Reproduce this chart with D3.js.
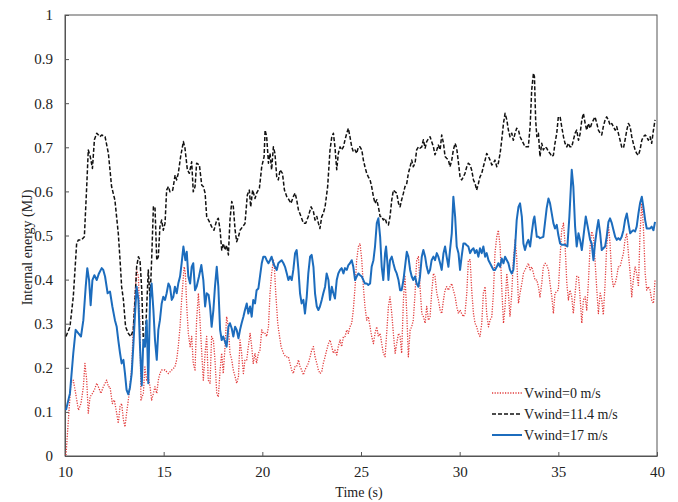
<!DOCTYPE html>
<html>
<head>
<meta charset="utf-8">
<script src="https://cdn.jsdelivr.net/npm/d3@7"></script>
<style>
  html, body { margin: 0; padding: 0; background: #fff; }
  svg text { font-family: "Liberation Serif", "Times New Roman", serif; fill: #222; }
</style>
</head>
<body>
<div id="chart"></div>
<script>
// ---- data (time in s, internal energy in MJ) ----
const timeTicks = [10, 15, 20, 25, 30, 35, 40];
const energyTicks = [0, 0.1, 0.2, 0.3, 0.4, 0.5, 0.6, 0.7, 0.8, 0.9, 1];

const wind0 = [
  [10.05,0.002],[10.17,0.081],[10.30,0.165],[10.42,0.172],[10.54,0.142],[10.68,0.104],[10.81,0.119],[10.93,0.157],
  [11.01,0.210],[11.10,0.172],[11.18,0.097],[11.27,0.134],[11.39,0.142],[11.49,0.150],[11.61,0.165],[11.69,0.157],
  [11.82,0.142],[11.94,0.157],[12.11,0.172],[12.20,0.157],[12.28,0.157],[12.40,0.119],[12.50,0.127],[12.62,0.097],
  [12.70,0.074],[12.79,0.112],[12.87,0.119],[12.96,0.082],[13.04,0.066],[13.12,0.097],[13.21,0.127],[13.29,0.157],
  [13.38,0.202],[13.46,0.293],[13.55,0.369],[13.63,0.422],[13.72,0.407],[13.80,0.293],[13.85,0.127],[13.97,0.142],
  [14.05,0.202],[14.14,0.172],[14.22,0.180],[14.31,0.157],[14.39,0.127],[14.48,0.142],[14.56,0.157],[14.65,0.142],
  [14.73,0.172],[14.81,0.187],[14.90,0.195],[15.07,0.195],[15.24,0.187],[15.41,0.195],[15.57,0.202],[15.66,0.218],
  [15.74,0.248],[15.83,0.293],[15.91,0.354],[16.00,0.407],[16.04,0.429],[16.10,0.414],[16.17,0.339],[16.25,0.278],
  [16.34,0.248],[16.42,0.271],[16.50,0.210],[16.59,0.195],[16.67,0.308],[16.76,0.369],[16.84,0.308],[16.93,0.233],
  [17.01,0.172],[17.10,0.233],[17.18,0.271],[17.26,0.172],[17.35,0.165],[17.43,0.271],[17.52,0.263],[17.60,0.218],
  [17.69,0.142],[17.77,0.134],[17.86,0.195],[17.94,0.233],[18.02,0.187],[18.11,0.248],[18.19,0.316],[18.28,0.293],
  [18.36,0.233],[18.45,0.218],[18.53,0.195],[18.62,0.180],[18.70,0.165],[18.79,0.180],[18.87,0.263],[18.95,0.233],
  [19.04,0.187],[19.12,0.218],[19.21,0.218],[19.29,0.248],[19.38,0.278],[19.46,0.248],[19.54,0.210],[19.63,0.233],
  [19.71,0.210],[19.80,0.233],[19.88,0.240],[19.97,0.286],[20.05,0.278],[20.14,0.278],[20.22,0.271],[20.31,0.293],
  [20.39,0.369],[20.47,0.414],[20.56,0.444],[20.61,0.429],[20.68,0.369],[20.78,0.301],[20.85,0.278],[20.95,0.248],
  [21.07,0.233],[21.18,0.225],[21.32,0.225],[21.40,0.210],[21.49,0.195],[21.57,0.187],[21.66,0.203],[21.74,0.203],
  [21.83,0.218],[21.91,0.203],[21.99,0.195],[22.08,0.184],[22.16,0.195],[22.25,0.203],[22.33,0.210],[22.42,0.225],
  [22.50,0.240],[22.59,0.248],[22.67,0.225],[22.76,0.210],[22.84,0.195],[22.92,0.187],[23.01,0.191],[23.09,0.210],
  [23.18,0.225],[23.26,0.240],[23.35,0.255],[23.43,0.263],[23.52,0.248],[23.60,0.233],[23.68,0.240],[23.77,0.229],
  [23.85,0.248],[23.94,0.263],[24.02,0.248],[24.11,0.271],[24.19,0.271],[24.28,0.286],[24.36,0.278],[24.44,0.293],
  [24.53,0.301],[24.61,0.331],[24.70,0.384],[24.78,0.444],[24.87,0.475],[24.95,0.482],[25.04,0.444],[25.12,0.384],
  [25.20,0.339],[25.29,0.308],[25.37,0.316],[25.46,0.293],[25.54,0.271],[25.63,0.255],[25.71,0.278],[25.80,0.293],
  [25.88,0.271],[25.97,0.278],[26.05,0.255],[26.13,0.233],[26.22,0.225],[26.30,0.278],[26.39,0.339],[26.47,0.361],
  [26.56,0.323],[26.64,0.278],[26.73,0.233],[26.81,0.255],[26.90,0.278],[26.98,0.271],[27.06,0.233],[27.15,0.354],
  [27.23,0.407],[27.32,0.323],[27.40,0.225],[27.49,0.286],[27.57,0.293],[27.65,0.308],[27.74,0.369],[27.82,0.444],
  [27.91,0.452],[27.99,0.384],[28.08,0.323],[28.16,0.316],[28.25,0.301],[28.33,0.339],[28.42,0.308],[28.50,0.316],
  [28.58,0.369],[28.67,0.414],[28.75,0.407],[28.84,0.369],[28.92,0.354],[29.01,0.331],[29.09,0.323],[29.18,0.354],
  [29.26,0.376],[29.34,0.384],[29.43,0.376],[29.51,0.384],[29.60,0.391],[29.68,0.376],[29.77,0.361],[29.85,0.339],
  [29.94,0.323],[30.02,0.331],[30.10,0.323],[30.19,0.316],[30.27,0.323],[30.36,0.369],[30.44,0.444],[30.53,0.445],
  [30.61,0.376],[30.70,0.323],[30.78,0.301],[30.86,0.293],[30.95,0.278],[31.03,0.271],[31.12,0.301],[31.20,0.369],
  [31.29,0.384],[31.37,0.323],[31.46,0.293],[31.54,0.308],[31.63,0.316],[31.71,0.369],[31.79,0.460],[31.88,0.497],
  [31.96,0.512],[32.05,0.475],[32.13,0.384],[32.22,0.301],[32.30,0.338],[32.39,0.414],[32.47,0.369],[32.55,0.316],
  [32.64,0.369],[32.72,0.444],[32.81,0.490],[32.89,0.452],[32.98,0.346],[33.06,0.369],[33.15,0.391],[33.23,0.414],
  [33.31,0.422],[33.40,0.429],[33.48,0.437],[33.57,0.422],[33.65,0.429],[33.74,0.414],[33.82,0.399],[33.91,0.399],
  [33.99,0.384],[34.07,0.361],[34.16,0.391],[34.24,0.429],[34.33,0.437],[34.41,0.433],[34.50,0.422],[34.58,0.391],
  [34.67,0.361],[34.75,0.323],[34.83,0.369],[34.92,0.373],[35.00,0.376],[35.09,0.452],[35.17,0.513],[35.26,0.528],
  [35.34,0.482],[35.43,0.391],[35.51,0.354],[35.59,0.376],[35.68,0.361],[35.76,0.323],[35.85,0.369],[35.93,0.407],
  [36.02,0.407],[36.10,0.361],[36.19,0.301],[36.27,0.354],[36.36,0.361],[36.44,0.331],[36.52,0.391],[36.61,0.475],
  [36.69,0.509],[36.78,0.497],[36.86,0.444],[36.95,0.376],[37.03,0.323],[37.12,0.369],[37.20,0.354],[37.28,0.320],
  [37.37,0.391],[37.45,0.475],[37.54,0.524],[37.62,0.482],[37.71,0.407],[37.79,0.384],[37.88,0.391],[37.96,0.407],
  [38.04,0.429],[38.13,0.429],[38.21,0.444],[38.30,0.460],[38.38,0.490],[38.47,0.505],[38.55,0.460],[38.64,0.414],
  [38.72,0.361],[38.80,0.399],[38.89,0.429],[38.97,0.414],[39.06,0.384],[39.14,0.505],[39.23,0.573],[39.31,0.520],
  [39.40,0.414],[39.48,0.376],[39.56,0.384],[39.65,0.376],[39.73,0.354],[39.82,0.346],[39.90,0.399]
];

const wind114 = [
  [10.05,0.271],[10.25,0.293],[10.42,0.361],[10.59,0.482],[10.68,0.490],[10.84,0.490],[10.98,0.497],[11.10,0.611],
  [11.18,0.694],[11.28,0.679],[11.39,0.652],[11.49,0.717],[11.61,0.732],[11.77,0.724],[11.86,0.728],[12.03,0.724],
  [12.20,0.686],[12.36,0.611],[12.53,0.580],[12.70,0.505],[12.79,0.444],[12.87,0.384],[12.96,0.354],[13.07,0.293],
  [13.21,0.278],[13.34,0.271],[13.46,0.286],[13.55,0.354],[13.63,0.429],[13.72,0.452],[13.80,0.444],[13.89,0.376],
  [13.97,0.263],[14.05,0.248],[14.14,0.339],[14.22,0.422],[14.31,0.354],[14.39,0.444],[14.48,0.565],[14.56,0.565],
  [14.65,0.444],[14.73,0.452],[14.81,0.520],[14.90,0.535],[14.98,0.512],[15.07,0.528],[15.15,0.603],[15.24,0.611],
  [15.32,0.599],[15.46,0.603],[15.58,0.637],[15.66,0.626],[15.74,0.641],[15.86,0.679],[16.00,0.713],[16.08,0.698],
  [16.20,0.649],[16.30,0.641],[16.42,0.667],[16.50,0.599],[16.59,0.611],[16.67,0.664],[16.81,0.660],[16.93,0.614],
  [17.01,0.611],[17.10,0.596],[17.18,0.543],[17.32,0.531],[17.43,0.520],[17.55,0.512],[17.69,0.535],[17.77,0.539],
  [17.86,0.512],[17.94,0.467],[18.02,0.482],[18.11,0.467],[18.19,0.478],[18.28,0.456],[18.36,0.535],[18.45,0.577],
  [18.53,0.565],[18.62,0.512],[18.70,0.486],[18.79,0.497],[18.87,0.512],[19.00,0.520],[19.12,0.527],[19.24,0.592],
  [19.34,0.603],[19.41,0.565],[19.51,0.603],[19.63,0.584],[19.71,0.596],[19.85,0.607],[19.97,0.656],[20.09,0.679],
  [20.14,0.739],[20.22,0.724],[20.31,0.664],[20.39,0.686],[20.47,0.649],[20.56,0.701],[20.64,0.686],[20.73,0.633],
  [20.81,0.626],[20.90,0.649],[21.02,0.641],[21.12,0.603],[21.24,0.588],[21.35,0.581],[21.45,0.573],[21.57,0.588],
  [21.66,0.596],[21.74,0.581],[21.83,0.558],[21.96,0.543],[22.08,0.528],[22.20,0.528],[22.33,0.543],[22.47,0.565],
  [22.59,0.554],[22.67,0.535],[22.76,0.543],[22.84,0.528],[22.92,0.516],[23.01,0.543],[23.09,0.550],[23.18,0.565],
  [23.31,0.611],[23.43,0.694],[23.52,0.724],[23.60,0.732],[23.68,0.701],[23.77,0.649],[23.85,0.686],[23.94,0.701],
  [24.02,0.694],[24.11,0.701],[24.19,0.717],[24.28,0.732],[24.36,0.743],[24.44,0.724],[24.53,0.701],[24.61,0.690],
  [24.70,0.694],[24.78,0.686],[24.87,0.701],[24.95,0.701],[25.04,0.694],[25.12,0.671],[25.20,0.656],[25.29,0.641],
  [25.37,0.633],[25.46,0.626],[25.54,0.611],[25.63,0.588],[25.71,0.573],[25.80,0.581],[25.88,0.565],[25.97,0.543],
  [26.05,0.543],[26.13,0.535],[26.22,0.539],[26.30,0.528],[26.39,0.524],[26.47,0.543],[26.56,0.581],[26.64,0.603],
  [26.73,0.599],[26.81,0.596],[26.90,0.573],[26.98,0.565],[27.06,0.581],[27.15,0.596],[27.23,0.611],[27.32,0.618],
  [27.40,0.641],[27.49,0.656],[27.57,0.671],[27.65,0.656],[27.74,0.664],[27.82,0.694],[27.91,0.701],[27.99,0.698],
  [28.08,0.701],[28.16,0.717],[28.25,0.698],[28.33,0.713],[28.42,0.720],[28.50,0.724],[28.58,0.713],[28.67,0.701],
  [28.75,0.683],[28.84,0.694],[28.92,0.705],[29.01,0.694],[29.09,0.728],[29.18,0.709],[29.26,0.679],[29.34,0.675],
  [29.43,0.671],[29.51,0.656],[29.60,0.671],[29.68,0.694],[29.77,0.709],[29.85,0.698],[29.94,0.664],[30.02,0.633],
  [30.10,0.626],[30.19,0.633],[30.27,0.641],[30.36,0.656],[30.44,0.664],[30.53,0.660],[30.61,0.648],[30.70,0.626],
  [30.78,0.618],[30.86,0.603],[30.95,0.618],[31.03,0.633],[31.12,0.641],[31.20,0.656],[31.29,0.671],[31.37,0.686],
  [31.46,0.679],[31.54,0.671],[31.63,0.660],[31.71,0.664],[31.79,0.671],[31.88,0.656],[31.96,0.664],[32.05,0.686],
  [32.13,0.716],[32.22,0.754],[32.30,0.777],[32.39,0.762],[32.47,0.739],[32.55,0.724],[32.64,0.732],[32.72,0.716],
  [32.81,0.732],[32.89,0.743],[32.98,0.739],[33.06,0.724],[33.15,0.716],[33.23,0.709],[33.31,0.701],[33.40,0.701],
  [33.48,0.701],[33.57,0.747],[33.65,0.830],[33.74,0.868],[33.79,0.860],[33.85,0.762],[33.91,0.724],[33.99,0.732],
  [34.07,0.679],[34.16,0.709],[34.24,0.694],[34.33,0.701],[34.41,0.698],[34.50,0.690],[34.58,0.686],[34.67,0.679],
  [34.75,0.682],[34.83,0.709],[34.92,0.732],[35.00,0.769],[35.09,0.769],[35.17,0.747],[35.26,0.724],[35.34,0.709],
  [35.43,0.701],[35.51,0.709],[35.59,0.701],[35.68,0.701],[35.76,0.716],[35.85,0.732],[35.93,0.739],[36.02,0.716],
  [36.10,0.730],[36.19,0.762],[36.27,0.777],[36.36,0.754],[36.44,0.739],[36.52,0.754],[36.61,0.743],[36.69,0.754],
  [36.78,0.762],[36.86,0.769],[36.95,0.754],[37.03,0.739],[37.12,0.732],[37.20,0.728],[37.28,0.747],[37.37,0.762],
  [37.45,0.769],[37.54,0.762],[37.62,0.750],[37.71,0.754],[37.79,0.747],[37.88,0.739],[37.96,0.747],[38.04,0.732],
  [38.13,0.716],[38.21,0.701],[38.30,0.698],[38.38,0.716],[38.47,0.739],[38.55,0.754],[38.64,0.747],[38.72,0.724],
  [38.80,0.709],[38.89,0.694],[38.97,0.686],[39.06,0.682],[39.14,0.694],[39.23,0.716],[39.31,0.724],[39.40,0.728],
  [39.48,0.724],[39.56,0.716],[39.65,0.724],[39.73,0.709],[39.82,0.739],[39.90,0.762]
];

const wind17 = [
  [10.05,0.104],[10.25,0.142],[10.42,0.233],[10.54,0.286],[10.68,0.278],[10.81,0.271],[10.93,0.308],[11.05,0.384],
  [11.13,0.426],[11.22,0.399],[11.30,0.342],[11.39,0.399],[11.49,0.410],[11.61,0.399],[11.72,0.414],[11.86,0.426],
  [11.94,0.422],[12.03,0.407],[12.16,0.369],[12.28,0.373],[12.40,0.339],[12.53,0.308],[12.62,0.293],[12.70,0.263],
  [12.79,0.233],[12.87,0.210],[12.96,0.218],[13.04,0.187],[13.12,0.150],[13.21,0.140],[13.29,0.155],[13.38,0.187],
  [13.46,0.248],[13.55,0.323],[13.63,0.384],[13.72,0.354],[13.80,0.248],[13.89,0.160],[13.97,0.263],[14.05,0.248],
  [14.14,0.308],[14.22,0.165],[14.31,0.354],[14.39,0.391],[14.48,0.331],[14.56,0.263],[14.65,0.218],[14.73,0.286],
  [14.81,0.308],[14.90,0.346],[14.98,0.361],[15.07,0.354],[15.15,0.369],[15.24,0.391],[15.32,0.384],[15.41,0.354],
  [15.49,0.361],[15.57,0.384],[15.66,0.369],[15.74,0.391],[15.83,0.407],[15.91,0.437],[16.00,0.475],[16.10,0.444],
  [16.17,0.463],[16.25,0.407],[16.34,0.391],[16.42,0.429],[16.50,0.437],[16.59,0.376],[16.67,0.384],[16.79,0.407],
  [16.91,0.433],[17.01,0.399],[17.10,0.339],[17.18,0.369],[17.28,0.365],[17.35,0.339],[17.43,0.293],[17.52,0.331],
  [17.60,0.384],[17.69,0.429],[17.77,0.384],[17.86,0.286],[17.94,0.263],[18.02,0.271],[18.11,0.259],[18.19,0.248],
  [18.28,0.293],[18.36,0.301],[18.45,0.289],[18.53,0.271],[18.62,0.293],[18.70,0.286],[18.79,0.267],[18.87,0.286],
  [18.95,0.301],[19.04,0.316],[19.12,0.331],[19.21,0.346],[19.29,0.323],[19.38,0.339],[19.46,0.316],[19.54,0.354],
  [19.63,0.346],[19.71,0.376],[19.80,0.380],[19.88,0.407],[19.97,0.437],[20.05,0.452],[20.14,0.452],[20.22,0.444],
  [20.31,0.437],[20.39,0.444],[20.47,0.452],[20.56,0.437],[20.64,0.429],[20.73,0.422],[20.81,0.437],[20.90,0.441],
  [20.98,0.444],[21.07,0.437],[21.15,0.429],[21.24,0.414],[21.32,0.399],[21.40,0.407],[21.49,0.399],[21.57,0.422],
  [21.66,0.460],[21.74,0.467],[21.83,0.422],[21.91,0.369],[21.99,0.346],[22.08,0.354],[22.16,0.323],[22.25,0.361],
  [22.33,0.414],[22.42,0.452],[22.50,0.456],[22.59,0.429],[22.67,0.369],[22.76,0.339],[22.84,0.331],[22.92,0.339],
  [23.01,0.354],[23.09,0.369],[23.18,0.384],[23.26,0.414],[23.35,0.399],[23.43,0.354],[23.52,0.384],[23.60,0.369],
  [23.68,0.357],[23.77,0.399],[23.85,0.414],[23.94,0.422],[24.02,0.426],[24.11,0.414],[24.19,0.426],[24.28,0.422],
  [24.36,0.433],[24.44,0.437],[24.53,0.444],[24.61,0.429],[24.70,0.399],[24.78,0.407],[24.87,0.414],[24.95,0.410],
  [25.04,0.407],[25.12,0.399],[25.20,0.391],[25.29,0.391],[25.37,0.388],[25.46,0.391],[25.54,0.429],[25.63,0.444],
  [25.71,0.475],[25.80,0.528],[25.88,0.539],[25.97,0.497],[26.05,0.429],[26.13,0.399],[26.22,0.460],[26.27,0.475],
  [26.34,0.437],[26.39,0.399],[26.47,0.444],[26.56,0.452],[26.64,0.437],[26.73,0.422],[26.81,0.414],[26.90,0.399],
  [26.98,0.376],[27.06,0.376],[27.15,0.399],[27.23,0.429],[27.32,0.463],[27.40,0.452],[27.49,0.422],[27.57,0.407],
  [27.65,0.399],[27.74,0.407],[27.82,0.391],[27.91,0.384],[27.99,0.407],[28.08,0.452],[28.16,0.467],[28.25,0.452],
  [28.33,0.429],[28.42,0.414],[28.50,0.422],[28.58,0.444],[28.67,0.452],[28.75,0.444],[28.84,0.460],[28.92,0.452],
  [29.01,0.437],[29.09,0.422],[29.18,0.460],[29.26,0.475],[29.34,0.452],[29.43,0.429],[29.51,0.467],[29.60,0.505],
  [29.68,0.588],[29.77,0.543],[29.85,0.475],[29.94,0.460],[30.02,0.422],[30.10,0.452],[30.19,0.482],[30.27,0.482],
  [30.36,0.478],[30.44,0.475],[30.53,0.460],[30.61,0.467],[30.70,0.471],[30.78,0.460],[30.86,0.467],[30.95,0.452],
  [31.03,0.471],[31.12,0.460],[31.20,0.475],[31.29,0.452],[31.37,0.460],[31.46,0.444],[31.54,0.437],[31.63,0.429],
  [31.71,0.422],[31.79,0.422],[31.88,0.429],[31.96,0.437],[32.05,0.429],[32.13,0.448],[32.22,0.437],[32.30,0.452],
  [32.39,0.444],[32.47,0.437],[32.55,0.422],[32.64,0.414],[32.72,0.422],[32.81,0.475],[32.89,0.535],[32.98,0.565],
  [33.06,0.573],[33.15,0.543],[33.23,0.482],[33.31,0.467],[33.40,0.482],[33.48,0.490],[33.57,0.475],[33.65,0.505],
  [33.74,0.535],[33.79,0.543],[33.85,0.520],[33.91,0.497],[33.99,0.497],[34.07,0.494],[34.24,0.497],[34.41,0.562],
  [34.50,0.584],[34.58,0.573],[34.75,0.528],[34.83,0.516],[34.92,0.524],[35.00,0.501],[35.09,0.482],[35.17,0.479],
  [35.34,0.479],[35.46,0.475],[35.56,0.543],[35.68,0.649],[35.76,0.611],[35.85,0.520],[35.93,0.475],[36.02,0.505],
  [36.10,0.490],[36.19,0.467],[36.27,0.497],[36.39,0.543],[36.49,0.520],[36.61,0.490],[36.69,0.482],[36.78,0.444],
  [36.86,0.482],[36.95,0.513],[37.03,0.535],[37.12,0.505],[37.20,0.467],[37.28,0.471],[37.37,0.475],[37.45,0.497],
  [37.54,0.531],[37.62,0.539],[37.71,0.528],[37.79,0.513],[37.88,0.497],[37.96,0.490],[38.04,0.494],[38.13,0.490],
  [38.21,0.497],[38.30,0.512],[38.38,0.535],[38.47,0.550],[38.55,0.528],[38.64,0.505],[38.72,0.509],[38.80,0.512],
  [38.89,0.509],[38.97,0.520],[39.06,0.550],[39.14,0.573],[39.23,0.588],[39.31,0.565],[39.40,0.535],[39.48,0.516],
  [39.56,0.516],[39.65,0.516],[39.73,0.520],[39.82,0.512],[39.90,0.531]
];

const seriesNames = ['Vwind=0 m/s', 'Vwind=11.4 m/s', 'Vwind=17 m/s'];

// ---- styling ----
const styles = [
  { color: '#e23b3b', width: 1.3, dash: '1.2,1.4' },
  { color: '#111111', width: 1.5, dash: '4,2' },
  { color: '#1c6cbd', width: 2.0, dash: null }
];

const W = 678, H = 502;
const margin = { top: 15, right: 21, bottom: 46, left: 65 };

const svg = d3.select('#chart').append('svg')
  .attr('width', W).attr('height', H);

const x = d3.scaleLinear().domain([10, 40]).range([margin.left, W - margin.right]);
const y = d3.scaleLinear().domain([0, 1]).range([H - margin.bottom, margin.top]);

// frame
svg.append('rect')
  .attr('x', x(10)).attr('y', y(1))
  .attr('width', x(40) - x(10)).attr('height', y(0) - y(1))
  .attr('fill', 'none').attr('stroke', '#555').attr('stroke-width', 1);

// axes with inward ticks
const xAxis = svg.append('g')
  .attr('transform', `translate(0,${y(0)})`)
  .call(d3.axisBottom(x).tickValues(timeTicks).tickSizeInner(-4).tickSizeOuter(0).tickPadding(10).tickFormat(d3.format('d')));
const yAxis = svg.append('g')
  .attr('transform', `translate(${x(10)},0)`)
  .call(d3.axisLeft(y).tickValues(energyTicks).tickSizeInner(-4).tickSizeOuter(0).tickPadding(12).tickFormat(d => d3.format('~g')(d)));

[xAxis, yAxis].forEach(g => {
  g.select('.domain').attr('stroke', '#555');
  g.selectAll('.tick line').attr('stroke', '#555');
  g.selectAll('.tick text')
    .attr('font-family', '"Liberation Serif", "Times New Roman", serif')
    .attr('font-size', 15).attr('fill', '#222');
});

// axis titles
svg.append('text')
  .attr('x', (x(10) + x(40)) / 2 - 2).attr('y', 497)
  .attr('text-anchor', 'middle').attr('font-size', 14)
  .text('Time (s)');

svg.append('text')
  .attr('transform', `translate(32,${(y(0) + y(1)) / 2 + 12}) rotate(-90)`)
  .attr('text-anchor', 'middle').attr('font-size', 14)
  .text('Internal energy (MJ)');

// lines
const line = d3.line().x(d => x(d[0])).y(d => y(d[1]));
const plot = svg.append('g');
[wind0, wind114, wind17].forEach((data, i) => {
  const s = styles[i];
  plot.append('path')
    .datum(data)
    .attr('d', line)
    .attr('fill', 'none')
    .attr('stroke', s.color)
    .attr('stroke-width', s.width)
    .attr('stroke-dasharray', s.dash)
    .attr('stroke-linejoin', 'round');
});

// legend
const legend = svg.append('g').attr('transform', 'translate(492,393)');
seriesNames.forEach((name, i) => {
  const s = styles[i];
  const row = legend.append('g').attr('transform', `translate(0,${i * 21})`);
  row.append('line')
    .attr('x1', 0).attr('x2', 30).attr('y1', 0).attr('y2', 0)
    .attr('stroke', s.color).attr('stroke-width', s.width)
    .attr('stroke-dasharray', s.dash);
  row.append('text')
    .attr('x', 32).attr('y', 5)
    .attr('font-size', 14)
    .text(name);
});
</script>
</body>
</html>
